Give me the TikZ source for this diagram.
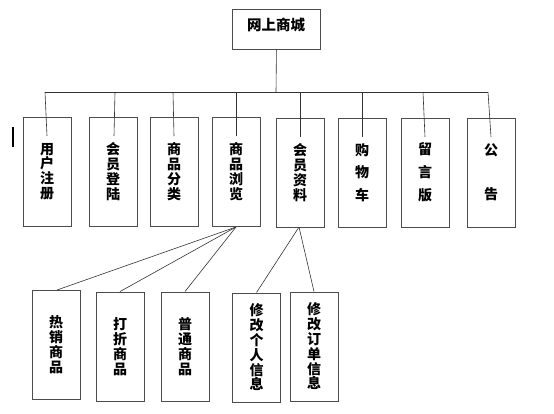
\documentclass[tikz,border=0pt]{standalone}
\usepackage{fontspec}
\newfontfamily\cjk{Noto Sans CJK SC}
\tikzset{
  box/.style={draw=black!70, line width=0.9pt, minimum width=48pt, minimum height=109pt, inner sep=0pt, align=center, font=\cjk\bfseries\fontsize{14}{14.8}\selectfont},
  conn/.style={draw=black!80, line width=0.6pt},
}
\begin{document}
\begin{tikzpicture}[x=1pt,y=-1pt]
\useasboundingbox (0,0) rectangle (554,413);
% top
\node[draw=black!70, line width=0.9pt, minimum width=88pt, minimum height=40pt, inner sep=0pt, anchor=north west] (root) at (232,9) {};
\node[font=\cjk\bfseries\fontsize{14.5}{15}\selectfont] (roottext) at (276,24.5) {网上商城};
% second level
\node[box] (b1) at (47,171.5) {用\\户\\注\\册};
\node[box] (b2) at (113,171.5) {会\\员\\登\\陆};
\node[box] (b3) at (174,171.5) {商\\品\\分\\类};
\node[box] (b4) at (236,171.5) {商\\品\\浏\\览};
\node[box] (b5) at (300,172.5) {会\\员\\资\\料};
\node[box] (b6) at (362,172.5) {购\\[8pt]物\\[8pt]车};
\node[box] (b7) at (425,172.5) {留\\[8pt]言\\[8pt]版};
\node[box] (b8) at (491,172.5) {公\\[29pt]告};
% third level
\node[box] (c1) at (56,344.5) {热\\销\\商\\品};
\node[box] (c2) at (120,346.5) {打\\折\\商\\品};
\node[box] (c3) at (185,346.5) {普\\通\\商\\品};
\node[box] (c4) at (256.5,347.5) {修\\改\\个\\人\\信\\息};
\node[box] (c5) at (314,346.5) {修\\改\\订\\单\\信\\息};
% bus
\coordinate (bus) at (276,92);
\coordinate (busL) at (45,92);
\coordinate (busR) at (488,92);
\draw[conn] (root.south) -- (bus);
\draw[conn] (busL) -- (busR);
\coordinate (u1) at (45,92);  \coordinate (d1) at (47,136);
\coordinate (u2) at (115,92); \coordinate (d2) at (114,136);
\coordinate (u3) at (173,92); \coordinate (d3) at (174,136);
\coordinate (u4) at (236,92); \coordinate (d4) at (236,136);
\coordinate (u5) at (300,92); \coordinate (d5) at (300,137);
\coordinate (u6) at (362,92); \coordinate (d6) at (362,137);
\coordinate (u7) at (423,92); \coordinate (d7) at (425,137);
\coordinate (u8) at (488,92); \coordinate (d8) at (491,137);
\foreach \i in {1,...,8} {\draw[conn] (u\i) -- (d\i);}
% lower connectors
\coordinate (p4) at (236,227);
\coordinate (p5) at (299,227);
\coordinate (q1) at (57,290);
\draw[conn] (p4) -- (q1);
\draw[conn] (p4) -- (c2.north);
\draw[conn] (p4) -- (c3.north);
\draw[conn] (p5) -- (c4.north);
\draw[conn] (p5) -- (c5.north);
% cursor mark
\coordinate (m1) at (13,127);
\coordinate (m2) at (13,147);
\draw[line width=1.2pt] (m1) -- (m2);
\end{tikzpicture}
\end{document}
